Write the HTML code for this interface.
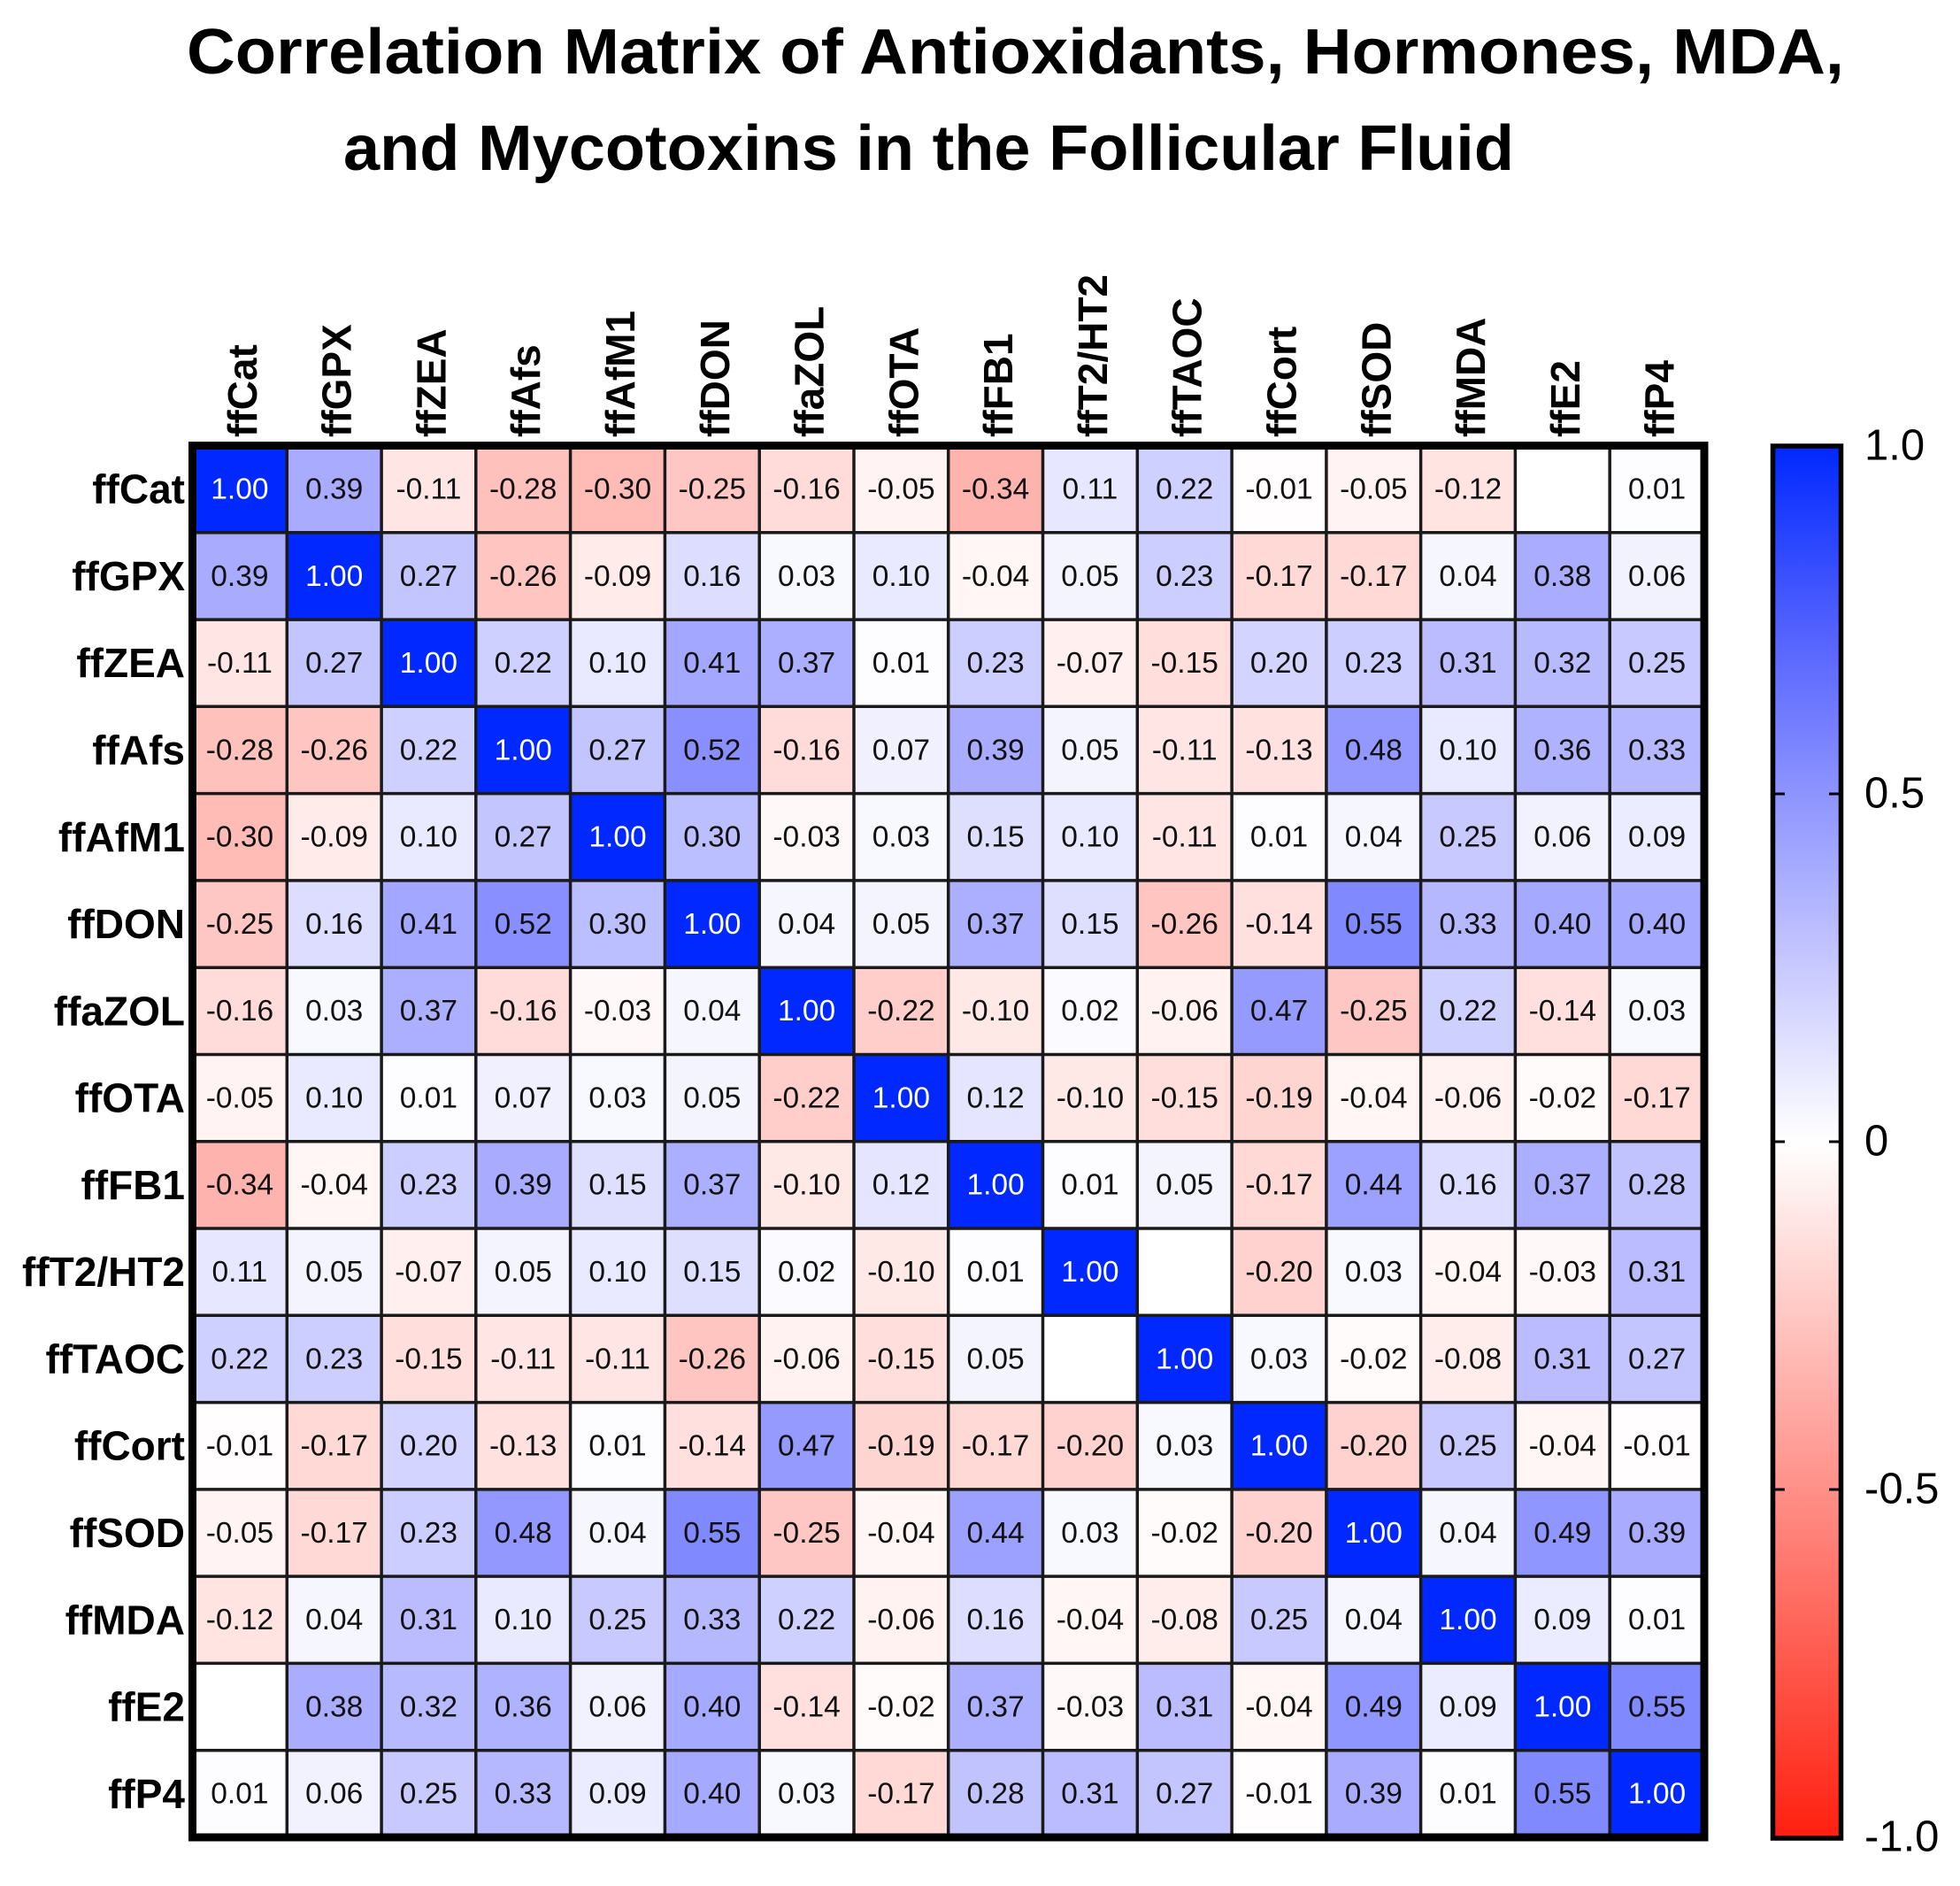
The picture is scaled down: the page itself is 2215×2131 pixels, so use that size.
<!DOCTYPE html>
<html><head><meta charset="utf-8">
<style>
html,body{margin:0;padding:0;background:#fff;}
svg{display:block;}
.t{font-family:"Liberation Sans",Arial,sans-serif;font-weight:bold;font-size:72px;fill:#000;}
.v text{font-family:"Liberation Sans",Arial,sans-serif;font-size:33.5px;text-anchor:middle;fill:#111;}
.v text.w{fill:#fff;}
.lb{font-family:"Liberation Sans",Arial,sans-serif;font-weight:bold;font-size:46px;fill:#000;}
.cb{font-family:"Liberation Sans",Arial,sans-serif;font-size:49px;fill:#000;}
</style></head><body>
<svg width="2215" height="2131" viewBox="0 0 2215 2131" xmlns="http://www.w3.org/2000/svg">
<defs>
<linearGradient id="g" x1="0" y1="0" x2="0" y2="1">
<stop offset="0" stop-color="#0028ff"/>
<stop offset="0.125" stop-color="#4e5eff"/>
<stop offset="0.25" stop-color="#8d94ff"/>
<stop offset="0.375" stop-color="#c8c9ff"/>
<stop offset="0.5" stop-color="#ffffff"/>
<stop offset="0.625" stop-color="#ffc7c3"/>
<stop offset="0.75" stop-color="#ff9088"/>
<stop offset="0.875" stop-color="#ff584c"/>
<stop offset="1" stop-color="#ff2010"/>
</linearGradient>
</defs>
<rect width="2215" height="2131" fill="#fff"/>
<text class="t" x="211" y="83" textLength="1873" lengthAdjust="spacingAndGlyphs">Correlation Matrix of Antioxidants, Hormones, MDA,</text>
<text class="t" x="388" y="192" textLength="1323" lengthAdjust="spacingAndGlyphs">and Mycotoxins in the Follicular Fluid</text>

<!-- column labels -->
<g class="lb">
<text transform="translate(289.9,494) rotate(-90)">ffCat</text>
<text transform="translate(396.7,494) rotate(-90)">ffGPX</text>
<text transform="translate(503.4,494) rotate(-90)">ffZEA</text>
<text transform="translate(610.2,494) rotate(-90)">ffAfs</text>
<text transform="translate(717,494) rotate(-90)">ffAfM1</text>
<text transform="translate(823.8,494) rotate(-90)">ffDON</text>
<text transform="translate(930.6,494) rotate(-90)">ffaZOL</text>
<text transform="translate(1037.4,494) rotate(-90)">ffOTA</text>
<text transform="translate(1144.1,494) rotate(-90)">ffFB1</text>
<text transform="translate(1250.9,494) rotate(-90)">ffT2/HT2</text>
<text transform="translate(1357.7,494) rotate(-90)">ffTAOC</text>
<text transform="translate(1464.5,494) rotate(-90)">ffCort</text>
<text transform="translate(1571.3,494) rotate(-90)">ffSOD</text>
<text transform="translate(1678,494) rotate(-90)">ffMDA</text>
<text transform="translate(1784.8,494) rotate(-90)">ffE2</text>
<text transform="translate(1891.6,494) rotate(-90)">ffP4</text>
</g>
<!-- row labels -->
<g class="lb" text-anchor="end">
<text x="209" y="568.6">ffCat</text>
<text x="209" y="666.9">ffGPX</text>
<text x="209" y="765.2">ffZEA</text>
<text x="209" y="863.5">ffAfs</text>
<text x="209" y="961.8">ffAfM1</text>
<text x="209" y="1060">ffDON</text>
<text x="209" y="1158.3">ffaZOL</text>
<text x="209" y="1256.6">ffOTA</text>
<text x="209" y="1354.9">ffFB1</text>
<text x="209" y="1453.2">ffT2/HT2</text>
<text x="209" y="1551.4">ffTAOC</text>
<text x="209" y="1649.7">ffCort</text>
<text x="209" y="1748">ffSOD</text>
<text x="209" y="1846.3">ffMDA</text>
<text x="209" y="1944.6">ffE2</text>
<text x="209" y="2042.9">ffP4</text>
</g>

<g class="v">
<!-- row 0 -->
<g transform="translate(0,503.5)">
<rect x="217.5" width="107" height="98.5" fill="#0028ff"/><rect x="324.3" width="107" height="98.5" fill="#a8abff"/><rect x="431.1" width="107" height="98.5" fill="#ffe6e5"/><rect x="537.8" width="107" height="98.5" fill="#ffc1bc"/><rect x="644.6" width="107" height="98.5" fill="#ffbcb7"/><rect x="751.4" width="107" height="98.5" fill="#ffc7c3"/><rect x="858.2" width="107" height="98.5" fill="#ffdbd9"/><rect x="965" width="107" height="98.5" fill="#fff4f3"/><rect x="1071.7" width="107" height="98.5" fill="#ffb3ae"/><rect x="1178.5" width="107" height="98.5" fill="#e7e7ff"/><rect x="1285.3" width="107" height="98.5" fill="#ced0ff"/><rect x="1392.1" width="107" height="98.5" fill="#fffdfd"/><rect x="1498.9" width="107" height="98.5" fill="#fff4f3"/><rect x="1605.6" width="107" height="98.5" fill="#ffe4e2"/><rect x="1712.4" width="107" height="98.5" fill="#ffffff"/><rect x="1819.2" width="107" height="98.5" fill="#fdfdff"/>
<text class="w" x="270.9" y="60">1.00</text><text x="377.7" y="60">0.39</text><text x="484.4" y="60">-0.11</text><text x="591.2" y="60">-0.28</text><text x="698" y="60">-0.30</text><text x="804.8" y="60">-0.25</text><text x="911.6" y="60">-0.16</text><text x="1018.4" y="60">-0.05</text><text x="1125.1" y="60">-0.34</text><text x="1231.9" y="60">0.11</text><text x="1338.7" y="60">0.22</text><text x="1445.5" y="60">-0.01</text><text x="1552.3" y="60">-0.05</text><text x="1659" y="60">-0.12</text><text x="1872.6" y="60">0.01</text>
</g>
<!-- row 1 -->
<g transform="translate(0,601.8)">
<rect x="217.5" width="107" height="98.5" fill="#a8abff"/><rect x="324.3" width="107" height="98.5" fill="#0028ff"/><rect x="431.1" width="107" height="98.5" fill="#c3c5ff"/><rect x="537.8" width="107" height="98.5" fill="#ffc5c1"/><rect x="644.6" width="107" height="98.5" fill="#ffebea"/><rect x="751.4" width="107" height="98.5" fill="#dcddff"/><rect x="858.2" width="107" height="98.5" fill="#f8f9ff"/><rect x="965" width="107" height="98.5" fill="#e9eaff"/><rect x="1071.7" width="107" height="98.5" fill="#fff6f5"/><rect x="1178.5" width="107" height="98.5" fill="#f4f4ff"/><rect x="1285.3" width="107" height="98.5" fill="#ccceff"/><rect x="1392.1" width="107" height="98.5" fill="#ffd9d6"/><rect x="1498.9" width="107" height="98.5" fill="#ffd9d6"/><rect x="1605.6" width="107" height="98.5" fill="#f6f6ff"/><rect x="1712.4" width="107" height="98.5" fill="#aaadff"/><rect x="1819.2" width="107" height="98.5" fill="#f2f2ff"/>
<text x="270.9" y="60">0.39</text><text class="w" x="377.7" y="60">1.00</text><text x="484.4" y="60">0.27</text><text x="591.2" y="60">-0.26</text><text x="698" y="60">-0.09</text><text x="804.8" y="60">0.16</text><text x="911.6" y="60">0.03</text><text x="1018.4" y="60">0.10</text><text x="1125.1" y="60">-0.04</text><text x="1231.9" y="60">0.05</text><text x="1338.7" y="60">0.23</text><text x="1445.5" y="60">-0.17</text><text x="1552.3" y="60">-0.17</text><text x="1659" y="60">0.04</text><text x="1765.8" y="60">0.38</text><text x="1872.6" y="60">0.06</text>
</g>
<!-- row 2 -->
<g transform="translate(0,700.1)">
<rect x="217.5" width="107" height="98.5" fill="#ffe6e5"/><rect x="324.3" width="107" height="98.5" fill="#c3c5ff"/><rect x="431.1" width="107" height="98.5" fill="#0028ff"/><rect x="537.8" width="107" height="98.5" fill="#ced0ff"/><rect x="644.6" width="107" height="98.5" fill="#e9eaff"/><rect x="751.4" width="107" height="98.5" fill="#a3a7ff"/><rect x="858.2" width="107" height="98.5" fill="#acafff"/><rect x="965" width="107" height="98.5" fill="#fdfdff"/><rect x="1071.7" width="107" height="98.5" fill="#ccceff"/><rect x="1178.5" width="107" height="98.5" fill="#ffefee"/><rect x="1285.3" width="107" height="98.5" fill="#ffdedb"/><rect x="1392.1" width="107" height="98.5" fill="#d3d4ff"/><rect x="1498.9" width="107" height="98.5" fill="#ccceff"/><rect x="1605.6" width="107" height="98.5" fill="#babcff"/><rect x="1712.4" width="107" height="98.5" fill="#b8baff"/><rect x="1819.2" width="107" height="98.5" fill="#c8c9ff"/>
<text x="270.9" y="60">-0.11</text><text x="377.7" y="60">0.27</text><text class="w" x="484.4" y="60">1.00</text><text x="591.2" y="60">0.22</text><text x="698" y="60">0.10</text><text x="804.8" y="60">0.41</text><text x="911.6" y="60">0.37</text><text x="1018.4" y="60">0.01</text><text x="1125.1" y="60">0.23</text><text x="1231.9" y="60">-0.07</text><text x="1338.7" y="60">-0.15</text><text x="1445.5" y="60">0.20</text><text x="1552.3" y="60">0.23</text><text x="1659" y="60">0.31</text><text x="1765.8" y="60">0.32</text><text x="1872.6" y="60">0.25</text>
</g>
<!-- row 3 -->
<g transform="translate(0,798.3)">
<rect x="217.5" width="107" height="98.5" fill="#ffc1bc"/><rect x="324.3" width="107" height="98.5" fill="#ffc5c1"/><rect x="431.1" width="107" height="98.5" fill="#ced0ff"/><rect x="537.8" width="107" height="98.5" fill="#0028ff"/><rect x="644.6" width="107" height="98.5" fill="#c3c5ff"/><rect x="751.4" width="107" height="98.5" fill="#898fff"/><rect x="858.2" width="107" height="98.5" fill="#ffdbd9"/><rect x="965" width="107" height="98.5" fill="#f0f0ff"/><rect x="1071.7" width="107" height="98.5" fill="#a8abff"/><rect x="1178.5" width="107" height="98.5" fill="#f4f4ff"/><rect x="1285.3" width="107" height="98.5" fill="#ffe6e5"/><rect x="1392.1" width="107" height="98.5" fill="#ffe2e0"/><rect x="1498.9" width="107" height="98.5" fill="#9298ff"/><rect x="1605.6" width="107" height="98.5" fill="#e9eaff"/><rect x="1712.4" width="107" height="98.5" fill="#afb2ff"/><rect x="1819.2" width="107" height="98.5" fill="#b5b8ff"/>
<text x="270.9" y="60">-0.28</text><text x="377.7" y="60">-0.26</text><text x="484.4" y="60">0.22</text><text class="w" x="591.2" y="60">1.00</text><text x="698" y="60">0.27</text><text x="804.8" y="60">0.52</text><text x="911.6" y="60">-0.16</text><text x="1018.4" y="60">0.07</text><text x="1125.1" y="60">0.39</text><text x="1231.9" y="60">0.05</text><text x="1338.7" y="60">-0.11</text><text x="1445.5" y="60">-0.13</text><text x="1552.3" y="60">0.48</text><text x="1659" y="60">0.10</text><text x="1765.8" y="60">0.36</text><text x="1872.6" y="60">0.33</text>
</g>
<!-- row 4 -->
<g transform="translate(0,896.6)">
<rect x="217.5" width="107" height="98.5" fill="#ffbcb7"/><rect x="324.3" width="107" height="98.5" fill="#ffebea"/><rect x="431.1" width="107" height="98.5" fill="#e9eaff"/><rect x="537.8" width="107" height="98.5" fill="#c3c5ff"/><rect x="644.6" width="107" height="98.5" fill="#0028ff"/><rect x="751.4" width="107" height="98.5" fill="#bcbfff"/><rect x="858.2" width="107" height="98.5" fill="#fff8f8"/><rect x="965" width="107" height="98.5" fill="#f8f9ff"/><rect x="1071.7" width="107" height="98.5" fill="#dedfff"/><rect x="1178.5" width="107" height="98.5" fill="#e9eaff"/><rect x="1285.3" width="107" height="98.5" fill="#ffe6e5"/><rect x="1392.1" width="107" height="98.5" fill="#fdfdff"/><rect x="1498.9" width="107" height="98.5" fill="#f6f6ff"/><rect x="1605.6" width="107" height="98.5" fill="#c8c9ff"/><rect x="1712.4" width="107" height="98.5" fill="#f2f2ff"/><rect x="1819.2" width="107" height="98.5" fill="#ebecff"/>
<text x="270.9" y="60">-0.30</text><text x="377.7" y="60">-0.09</text><text x="484.4" y="60">0.10</text><text x="591.2" y="60">0.27</text><text class="w" x="698" y="60">1.00</text><text x="804.8" y="60">0.30</text><text x="911.6" y="60">-0.03</text><text x="1018.4" y="60">0.03</text><text x="1125.1" y="60">0.15</text><text x="1231.9" y="60">0.10</text><text x="1338.7" y="60">-0.11</text><text x="1445.5" y="60">0.01</text><text x="1552.3" y="60">0.04</text><text x="1659" y="60">0.25</text><text x="1765.8" y="60">0.06</text><text x="1872.6" y="60">0.09</text>
</g>
<!-- row 5 -->
<g transform="translate(0,994.9)">
<rect x="217.5" width="107" height="98.5" fill="#ffc7c3"/><rect x="324.3" width="107" height="98.5" fill="#dcddff"/><rect x="431.1" width="107" height="98.5" fill="#a3a7ff"/><rect x="537.8" width="107" height="98.5" fill="#898fff"/><rect x="644.6" width="107" height="98.5" fill="#bcbfff"/><rect x="751.4" width="107" height="98.5" fill="#0028ff"/><rect x="858.2" width="107" height="98.5" fill="#f6f6ff"/><rect x="965" width="107" height="98.5" fill="#f4f4ff"/><rect x="1071.7" width="107" height="98.5" fill="#acafff"/><rect x="1178.5" width="107" height="98.5" fill="#dedfff"/><rect x="1285.3" width="107" height="98.5" fill="#ffc5c1"/><rect x="1392.1" width="107" height="98.5" fill="#ffe0de"/><rect x="1498.9" width="107" height="98.5" fill="#8189ff"/><rect x="1605.6" width="107" height="98.5" fill="#b5b8ff"/><rect x="1712.4" width="107" height="98.5" fill="#a5a9ff"/><rect x="1819.2" width="107" height="98.5" fill="#a5a9ff"/>
<text x="270.9" y="60">-0.25</text><text x="377.7" y="60">0.16</text><text x="484.4" y="60">0.41</text><text x="591.2" y="60">0.52</text><text x="698" y="60">0.30</text><text class="w" x="804.8" y="60">1.00</text><text x="911.6" y="60">0.04</text><text x="1018.4" y="60">0.05</text><text x="1125.1" y="60">0.37</text><text x="1231.9" y="60">0.15</text><text x="1338.7" y="60">-0.26</text><text x="1445.5" y="60">-0.14</text><text x="1552.3" y="60">0.55</text><text x="1659" y="60">0.33</text><text x="1765.8" y="60">0.40</text><text x="1872.6" y="60">0.40</text>
</g>
<!-- row 6 -->
<g transform="translate(0,1093.2)">
<rect x="217.5" width="107" height="98.5" fill="#ffdbd9"/><rect x="324.3" width="107" height="98.5" fill="#f8f9ff"/><rect x="431.1" width="107" height="98.5" fill="#acafff"/><rect x="537.8" width="107" height="98.5" fill="#ffdbd9"/><rect x="644.6" width="107" height="98.5" fill="#fff8f8"/><rect x="751.4" width="107" height="98.5" fill="#f6f6ff"/><rect x="858.2" width="107" height="98.5" fill="#0028ff"/><rect x="965" width="107" height="98.5" fill="#ffceca"/><rect x="1071.7" width="107" height="98.5" fill="#ffe9e7"/><rect x="1178.5" width="107" height="98.5" fill="#fbfbff"/><rect x="1285.3" width="107" height="98.5" fill="#fff2f1"/><rect x="1392.1" width="107" height="98.5" fill="#959aff"/><rect x="1498.9" width="107" height="98.5" fill="#ffc7c3"/><rect x="1605.6" width="107" height="98.5" fill="#ced0ff"/><rect x="1712.4" width="107" height="98.5" fill="#ffe0de"/><rect x="1819.2" width="107" height="98.5" fill="#f8f9ff"/>
<text x="270.9" y="60">-0.16</text><text x="377.7" y="60">0.03</text><text x="484.4" y="60">0.37</text><text x="591.2" y="60">-0.16</text><text x="698" y="60">-0.03</text><text x="804.8" y="60">0.04</text><text class="w" x="911.6" y="60">1.00</text><text x="1018.4" y="60">-0.22</text><text x="1125.1" y="60">-0.10</text><text x="1231.9" y="60">0.02</text><text x="1338.7" y="60">-0.06</text><text x="1445.5" y="60">0.47</text><text x="1552.3" y="60">-0.25</text><text x="1659" y="60">0.22</text><text x="1765.8" y="60">-0.14</text><text x="1872.6" y="60">0.03</text>
</g>
<!-- row 7 -->
<g transform="translate(0,1191.5)">
<rect x="217.5" width="107" height="98.5" fill="#fff4f3"/><rect x="324.3" width="107" height="98.5" fill="#e9eaff"/><rect x="431.1" width="107" height="98.5" fill="#fdfdff"/><rect x="537.8" width="107" height="98.5" fill="#f0f0ff"/><rect x="644.6" width="107" height="98.5" fill="#f8f9ff"/><rect x="751.4" width="107" height="98.5" fill="#f4f4ff"/><rect x="858.2" width="107" height="98.5" fill="#ffceca"/><rect x="965" width="107" height="98.5" fill="#0028ff"/><rect x="1071.7" width="107" height="98.5" fill="#e5e5ff"/><rect x="1178.5" width="107" height="98.5" fill="#ffe9e7"/><rect x="1285.3" width="107" height="98.5" fill="#ffdedb"/><rect x="1392.1" width="107" height="98.5" fill="#ffd5d2"/><rect x="1498.9" width="107" height="98.5" fill="#fff6f5"/><rect x="1605.6" width="107" height="98.5" fill="#fff2f1"/><rect x="1712.4" width="107" height="98.5" fill="#fffbfa"/><rect x="1819.2" width="107" height="98.5" fill="#ffd9d6"/>
<text x="270.9" y="60">-0.05</text><text x="377.7" y="60">0.10</text><text x="484.4" y="60">0.01</text><text x="591.2" y="60">0.07</text><text x="698" y="60">0.03</text><text x="804.8" y="60">0.05</text><text x="911.6" y="60">-0.22</text><text class="w" x="1018.4" y="60">1.00</text><text x="1125.1" y="60">0.12</text><text x="1231.9" y="60">-0.10</text><text x="1338.7" y="60">-0.15</text><text x="1445.5" y="60">-0.19</text><text x="1552.3" y="60">-0.04</text><text x="1659" y="60">-0.06</text><text x="1765.8" y="60">-0.02</text><text x="1872.6" y="60">-0.17</text>
</g>
<!-- row 8 -->
<g transform="translate(0,1289.7)">
<rect x="217.5" width="107" height="98.5" fill="#ffb3ae"/><rect x="324.3" width="107" height="98.5" fill="#fff6f5"/><rect x="431.1" width="107" height="98.5" fill="#ccceff"/><rect x="537.8" width="107" height="98.5" fill="#a8abff"/><rect x="644.6" width="107" height="98.5" fill="#dedfff"/><rect x="751.4" width="107" height="98.5" fill="#acafff"/><rect x="858.2" width="107" height="98.5" fill="#ffe9e7"/><rect x="965" width="107" height="98.5" fill="#e5e5ff"/><rect x="1071.7" width="107" height="98.5" fill="#0028ff"/><rect x="1178.5" width="107" height="98.5" fill="#fdfdff"/><rect x="1285.3" width="107" height="98.5" fill="#f4f4ff"/><rect x="1392.1" width="107" height="98.5" fill="#ffd9d6"/><rect x="1498.9" width="107" height="98.5" fill="#9ca0ff"/><rect x="1605.6" width="107" height="98.5" fill="#dcddff"/><rect x="1712.4" width="107" height="98.5" fill="#acafff"/><rect x="1819.2" width="107" height="98.5" fill="#c1c3ff"/>
<text x="270.9" y="60">-0.34</text><text x="377.7" y="60">-0.04</text><text x="484.4" y="60">0.23</text><text x="591.2" y="60">0.39</text><text x="698" y="60">0.15</text><text x="804.8" y="60">0.37</text><text x="911.6" y="60">-0.10</text><text x="1018.4" y="60">0.12</text><text class="w" x="1125.1" y="60">1.00</text><text x="1231.9" y="60">0.01</text><text x="1338.7" y="60">0.05</text><text x="1445.5" y="60">-0.17</text><text x="1552.3" y="60">0.44</text><text x="1659" y="60">0.16</text><text x="1765.8" y="60">0.37</text><text x="1872.6" y="60">0.28</text>
</g>
<!-- row 9 -->
<g transform="translate(0,1388)">
<rect x="217.5" width="107" height="98.5" fill="#e7e7ff"/><rect x="324.3" width="107" height="98.5" fill="#f4f4ff"/><rect x="431.1" width="107" height="98.5" fill="#ffefee"/><rect x="537.8" width="107" height="98.5" fill="#f4f4ff"/><rect x="644.6" width="107" height="98.5" fill="#e9eaff"/><rect x="751.4" width="107" height="98.5" fill="#dedfff"/><rect x="858.2" width="107" height="98.5" fill="#fbfbff"/><rect x="965" width="107" height="98.5" fill="#ffe9e7"/><rect x="1071.7" width="107" height="98.5" fill="#fdfdff"/><rect x="1178.5" width="107" height="98.5" fill="#0028ff"/><rect x="1285.3" width="107" height="98.5" fill="#ffffff"/><rect x="1392.1" width="107" height="98.5" fill="#ffd2cf"/><rect x="1498.9" width="107" height="98.5" fill="#f8f9ff"/><rect x="1605.6" width="107" height="98.5" fill="#fff6f5"/><rect x="1712.4" width="107" height="98.5" fill="#fff8f8"/><rect x="1819.2" width="107" height="98.5" fill="#babcff"/>
<text x="270.9" y="60">0.11</text><text x="377.7" y="60">0.05</text><text x="484.4" y="60">-0.07</text><text x="591.2" y="60">0.05</text><text x="698" y="60">0.10</text><text x="804.8" y="60">0.15</text><text x="911.6" y="60">0.02</text><text x="1018.4" y="60">-0.10</text><text x="1125.1" y="60">0.01</text><text class="w" x="1231.9" y="60">1.00</text><text x="1445.5" y="60">-0.20</text><text x="1552.3" y="60">0.03</text><text x="1659" y="60">-0.04</text><text x="1765.8" y="60">-0.03</text><text x="1872.6" y="60">0.31</text>
</g>
<!-- row 10 -->
<g transform="translate(0,1486.3)">
<rect x="217.5" width="107" height="98.5" fill="#ced0ff"/><rect x="324.3" width="107" height="98.5" fill="#ccceff"/><rect x="431.1" width="107" height="98.5" fill="#ffdedb"/><rect x="537.8" width="107" height="98.5" fill="#ffe6e5"/><rect x="644.6" width="107" height="98.5" fill="#ffe6e5"/><rect x="751.4" width="107" height="98.5" fill="#ffc5c1"/><rect x="858.2" width="107" height="98.5" fill="#fff2f1"/><rect x="965" width="107" height="98.5" fill="#ffdedb"/><rect x="1071.7" width="107" height="98.5" fill="#f4f4ff"/><rect x="1178.5" width="107" height="98.5" fill="#ffffff"/><rect x="1285.3" width="107" height="98.5" fill="#0028ff"/><rect x="1392.1" width="107" height="98.5" fill="#f8f9ff"/><rect x="1498.9" width="107" height="98.5" fill="#fffbfa"/><rect x="1605.6" width="107" height="98.5" fill="#ffedec"/><rect x="1712.4" width="107" height="98.5" fill="#babcff"/><rect x="1819.2" width="107" height="98.5" fill="#c3c5ff"/>
<text x="270.9" y="60">0.22</text><text x="377.7" y="60">0.23</text><text x="484.4" y="60">-0.15</text><text x="591.2" y="60">-0.11</text><text x="698" y="60">-0.11</text><text x="804.8" y="60">-0.26</text><text x="911.6" y="60">-0.06</text><text x="1018.4" y="60">-0.15</text><text x="1125.1" y="60">0.05</text><text class="w" x="1338.7" y="60">1.00</text><text x="1445.5" y="60">0.03</text><text x="1552.3" y="60">-0.02</text><text x="1659" y="60">-0.08</text><text x="1765.8" y="60">0.31</text><text x="1872.6" y="60">0.27</text>
</g>
<!-- row 11 -->
<g transform="translate(0,1584.6)">
<rect x="217.5" width="107" height="98.5" fill="#fffdfd"/><rect x="324.3" width="107" height="98.5" fill="#ffd9d6"/><rect x="431.1" width="107" height="98.5" fill="#d3d4ff"/><rect x="537.8" width="107" height="98.5" fill="#ffe2e0"/><rect x="644.6" width="107" height="98.5" fill="#fdfdff"/><rect x="751.4" width="107" height="98.5" fill="#ffe0de"/><rect x="858.2" width="107" height="98.5" fill="#959aff"/><rect x="965" width="107" height="98.5" fill="#ffd5d2"/><rect x="1071.7" width="107" height="98.5" fill="#ffd9d6"/><rect x="1178.5" width="107" height="98.5" fill="#ffd2cf"/><rect x="1285.3" width="107" height="98.5" fill="#f8f9ff"/><rect x="1392.1" width="107" height="98.5" fill="#0028ff"/><rect x="1498.9" width="107" height="98.5" fill="#ffd2cf"/><rect x="1605.6" width="107" height="98.5" fill="#c8c9ff"/><rect x="1712.4" width="107" height="98.5" fill="#fff6f5"/><rect x="1819.2" width="107" height="98.5" fill="#fffdfd"/>
<text x="270.9" y="60">-0.01</text><text x="377.7" y="60">-0.17</text><text x="484.4" y="60">0.20</text><text x="591.2" y="60">-0.13</text><text x="698" y="60">0.01</text><text x="804.8" y="60">-0.14</text><text x="911.6" y="60">0.47</text><text x="1018.4" y="60">-0.19</text><text x="1125.1" y="60">-0.17</text><text x="1231.9" y="60">-0.20</text><text x="1338.7" y="60">0.03</text><text class="w" x="1445.5" y="60">1.00</text><text x="1552.3" y="60">-0.20</text><text x="1659" y="60">0.25</text><text x="1765.8" y="60">-0.04</text><text x="1872.6" y="60">-0.01</text>
</g>
<!-- row 12 -->
<g transform="translate(0,1682.9)">
<rect x="217.5" width="107" height="98.5" fill="#fff4f3"/><rect x="324.3" width="107" height="98.5" fill="#ffd9d6"/><rect x="431.1" width="107" height="98.5" fill="#ccceff"/><rect x="537.8" width="107" height="98.5" fill="#9298ff"/><rect x="644.6" width="107" height="98.5" fill="#f6f6ff"/><rect x="751.4" width="107" height="98.5" fill="#8189ff"/><rect x="858.2" width="107" height="98.5" fill="#ffc7c3"/><rect x="965" width="107" height="98.5" fill="#fff6f5"/><rect x="1071.7" width="107" height="98.5" fill="#9ca0ff"/><rect x="1178.5" width="107" height="98.5" fill="#f8f9ff"/><rect x="1285.3" width="107" height="98.5" fill="#fffbfa"/><rect x="1392.1" width="107" height="98.5" fill="#ffd2cf"/><rect x="1498.9" width="107" height="98.5" fill="#0028ff"/><rect x="1605.6" width="107" height="98.5" fill="#f6f6ff"/><rect x="1712.4" width="107" height="98.5" fill="#9096ff"/><rect x="1819.2" width="107" height="98.5" fill="#a8abff"/>
<text x="270.9" y="60">-0.05</text><text x="377.7" y="60">-0.17</text><text x="484.4" y="60">0.23</text><text x="591.2" y="60">0.48</text><text x="698" y="60">0.04</text><text x="804.8" y="60">0.55</text><text x="911.6" y="60">-0.25</text><text x="1018.4" y="60">-0.04</text><text x="1125.1" y="60">0.44</text><text x="1231.9" y="60">0.03</text><text x="1338.7" y="60">-0.02</text><text x="1445.5" y="60">-0.20</text><text class="w" x="1552.3" y="60">1.00</text><text x="1659" y="60">0.04</text><text x="1765.8" y="60">0.49</text><text x="1872.6" y="60">0.39</text>
</g>
<!-- row 13 -->
<g transform="translate(0,1781.1)">
<rect x="217.5" width="107" height="98.5" fill="#ffe4e2"/><rect x="324.3" width="107" height="98.5" fill="#f6f6ff"/><rect x="431.1" width="107" height="98.5" fill="#babcff"/><rect x="537.8" width="107" height="98.5" fill="#e9eaff"/><rect x="644.6" width="107" height="98.5" fill="#c8c9ff"/><rect x="751.4" width="107" height="98.5" fill="#b5b8ff"/><rect x="858.2" width="107" height="98.5" fill="#ced0ff"/><rect x="965" width="107" height="98.5" fill="#fff2f1"/><rect x="1071.7" width="107" height="98.5" fill="#dcddff"/><rect x="1178.5" width="107" height="98.5" fill="#fff6f5"/><rect x="1285.3" width="107" height="98.5" fill="#ffedec"/><rect x="1392.1" width="107" height="98.5" fill="#c8c9ff"/><rect x="1498.9" width="107" height="98.5" fill="#f6f6ff"/><rect x="1605.6" width="107" height="98.5" fill="#0028ff"/><rect x="1712.4" width="107" height="98.5" fill="#ebecff"/><rect x="1819.2" width="107" height="98.5" fill="#fdfdff"/>
<text x="270.9" y="60">-0.12</text><text x="377.7" y="60">0.04</text><text x="484.4" y="60">0.31</text><text x="591.2" y="60">0.10</text><text x="698" y="60">0.25</text><text x="804.8" y="60">0.33</text><text x="911.6" y="60">0.22</text><text x="1018.4" y="60">-0.06</text><text x="1125.1" y="60">0.16</text><text x="1231.9" y="60">-0.04</text><text x="1338.7" y="60">-0.08</text><text x="1445.5" y="60">0.25</text><text x="1552.3" y="60">0.04</text><text class="w" x="1659" y="60">1.00</text><text x="1765.8" y="60">0.09</text><text x="1872.6" y="60">0.01</text>
</g>
<!-- row 14 -->
<g transform="translate(0,1879.4)">
<rect x="217.5" width="107" height="98.5" fill="#ffffff"/><rect x="324.3" width="107" height="98.5" fill="#aaadff"/><rect x="431.1" width="107" height="98.5" fill="#b8baff"/><rect x="537.8" width="107" height="98.5" fill="#afb2ff"/><rect x="644.6" width="107" height="98.5" fill="#f2f2ff"/><rect x="751.4" width="107" height="98.5" fill="#a5a9ff"/><rect x="858.2" width="107" height="98.5" fill="#ffe0de"/><rect x="965" width="107" height="98.5" fill="#fffbfa"/><rect x="1071.7" width="107" height="98.5" fill="#acafff"/><rect x="1178.5" width="107" height="98.5" fill="#fff8f8"/><rect x="1285.3" width="107" height="98.5" fill="#babcff"/><rect x="1392.1" width="107" height="98.5" fill="#fff6f5"/><rect x="1498.9" width="107" height="98.5" fill="#9096ff"/><rect x="1605.6" width="107" height="98.5" fill="#ebecff"/><rect x="1712.4" width="107" height="98.5" fill="#0028ff"/><rect x="1819.2" width="107" height="98.5" fill="#8189ff"/>
<text x="377.7" y="60">0.38</text><text x="484.4" y="60">0.32</text><text x="591.2" y="60">0.36</text><text x="698" y="60">0.06</text><text x="804.8" y="60">0.40</text><text x="911.6" y="60">-0.14</text><text x="1018.4" y="60">-0.02</text><text x="1125.1" y="60">0.37</text><text x="1231.9" y="60">-0.03</text><text x="1338.7" y="60">0.31</text><text x="1445.5" y="60">-0.04</text><text x="1552.3" y="60">0.49</text><text x="1659" y="60">0.09</text><text class="w" x="1765.8" y="60">1.00</text><text x="1872.6" y="60">0.55</text>
</g>
<!-- row 15 -->
<g transform="translate(0,1977.7)">
<rect x="217.5" width="107" height="98.5" fill="#fdfdff"/><rect x="324.3" width="107" height="98.5" fill="#f2f2ff"/><rect x="431.1" width="107" height="98.5" fill="#c8c9ff"/><rect x="537.8" width="107" height="98.5" fill="#b5b8ff"/><rect x="644.6" width="107" height="98.5" fill="#ebecff"/><rect x="751.4" width="107" height="98.5" fill="#a5a9ff"/><rect x="858.2" width="107" height="98.5" fill="#f8f9ff"/><rect x="965" width="107" height="98.5" fill="#ffd9d6"/><rect x="1071.7" width="107" height="98.5" fill="#c1c3ff"/><rect x="1178.5" width="107" height="98.5" fill="#babcff"/><rect x="1285.3" width="107" height="98.5" fill="#c3c5ff"/><rect x="1392.1" width="107" height="98.5" fill="#fffdfd"/><rect x="1498.9" width="107" height="98.5" fill="#a8abff"/><rect x="1605.6" width="107" height="98.5" fill="#fdfdff"/><rect x="1712.4" width="107" height="98.5" fill="#8189ff"/><rect x="1819.2" width="107" height="98.5" fill="#0028ff"/>
<text x="270.9" y="60">0.01</text><text x="377.7" y="60">0.06</text><text x="484.4" y="60">0.25</text><text x="591.2" y="60">0.33</text><text x="698" y="60">0.09</text><text x="804.8" y="60">0.40</text><text x="911.6" y="60">0.03</text><text x="1018.4" y="60">-0.17</text><text x="1125.1" y="60">0.28</text><text x="1231.9" y="60">0.31</text><text x="1338.7" y="60">0.27</text><text x="1445.5" y="60">-0.01</text><text x="1552.3" y="60">0.39</text><text x="1659" y="60">0.01</text><text x="1765.8" y="60">0.55</text><text class="w" x="1872.6" y="60">1.00</text>
</g>
</g>

<!-- grid lines -->
<g stroke="#1a1a1a" stroke-width="3.5" fill="none">
<path d="M324.3 503.5V2076M431.1 503.5V2076M537.8 503.5V2076M644.6 503.5V2076M751.4 503.5V2076M858.2 503.5V2076M965 503.5V2076M1071.7 503.5V2076M1178.5 503.5V2076M1285.3 503.5V2076M1392.1 503.5V2076M1498.9 503.5V2076M1605.6 503.5V2076M1712.4 503.5V2076M1819.2 503.5V2076"/>
<path d="M217.5 601.8H1926M217.5 700.1H1926M217.5 798.3H1926M217.5 896.6H1926M217.5 994.9H1926M217.5 1093.2H1926M217.5 1191.5H1926M217.5 1289.7H1926M217.5 1388H1926M217.5 1486.3H1926M217.5 1584.6H1926M217.5 1682.9H1926M217.5 1781.1H1926M217.5 1879.4H1926M217.5 1977.7H1926"/>
</g>
<rect x="217.5" y="503.5" width="1708.5" height="1572.5" fill="none" stroke="#000" stroke-width="9"/>

<!-- colorbar -->
<rect x="2004" y="504" width="76" height="1572" fill="url(#g)"/>
<g stroke="#000" stroke-width="3">
<path d="M2006 897H2017M2067 897H2078M2006 1290H2017M2067 1290H2078M2006 1683H2017M2067 1683H2078"/>
</g>
<rect x="2003.5" y="504" width="77" height="1573" fill="none" stroke="#000" stroke-width="5.5"/>
<g class="cb">
<text x="2107" y="519.5">1.0</text>
<text x="2107" y="912.5">0.5</text>
<text x="2107" y="1305.5">0</text>
<text x="2107" y="1698.5">-0.5</text>
<text x="2107" y="2091.5">-1.0</text>
</g>
</svg>
</body></html>
